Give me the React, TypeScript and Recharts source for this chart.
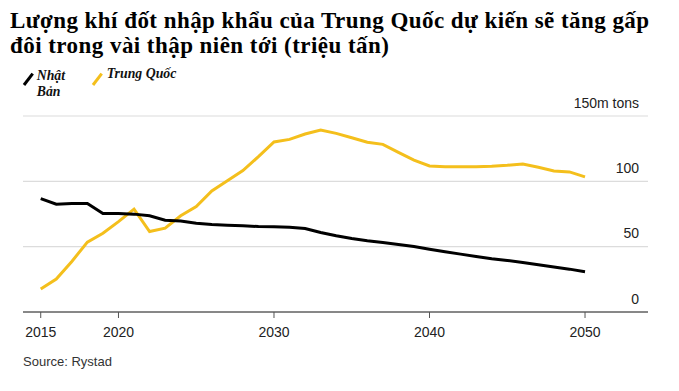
import React from "react";
import { LineChart, Line, XAxis, YAxis, CartesianGrid } from "recharts";

const years = [
  2015, 2016, 2017, 2018, 2019, 2020, 2021, 2022, 2023, 2024, 2025, 2026,
  2027, 2028, 2029, 2030, 2031, 2032, 2033, 2034, 2035, 2036, 2037, 2038,
  2039, 2040, 2041, 2042, 2043, 2044, 2045, 2046, 2047, 2048, 2049, 2050,
];

// Trung Quốc (million tons)
const china = [
  17.6, 25.2, 38.7, 53.5, 60.3, 69.2, 78.7, 61.6, 64.2, 73.6, 80.7, 92.7,
  100.5, 108.2, 118.9, 130.1, 132.1, 136.2, 139.3, 136.7, 133.4, 129.9,
  128.3, 122.2, 116.3, 111.8, 111.2, 111.2, 111.2, 111.6, 112.3, 113.3,
  110.8, 107.9, 107.2, 103.4,
];

// Nhật Bản (million tons)
const japan = [
  86.8, 82.5, 83.0, 83.0, 75.3, 75.3, 74.9, 73.6, 70.3, 69.7, 68.0, 66.9,
  66.4, 66.0, 65.4, 65.2, 64.9, 63.9, 60.8, 58.3, 56.2, 54.5, 53.2, 51.7,
  50.1, 48.1, 46.1, 44.3, 42.5, 40.7, 39.4, 37.9, 36.1, 34.4, 32.8, 30.8,
];

const xTicks = [2015, 2020, 2030, 2040, 2050];
const yTicks = [0, 50, 100, 150];

const YELLOW = "#f4bf1c";
const SANS = "'Liberation Sans', Arial, sans-serif";
const SERIF = "'Liberation Serif', 'Times New Roman', serif";

const data = years.map((year, i) => ({
  year,
  china: china[i],
  japan: japan[i],
}));

const RightTick = (props: any) => {
  const { x, y, payload } = props;
  const label = payload.value === 150 ? "150m tons" : String(payload.value);
  return (
    <text
      x={x}
      y={y - 8.5}
      textAnchor="end"
      fontSize={14}
      fontFamily={SANS}
      fill="#222"
    >
      {label}
    </text>
  );
};

const legendText: React.CSSProperties = {
  position: "absolute",
  fontFamily: SERIF,
  fontStyle: "italic",
  fontWeight: "bold",
  fontSize: 13.8,
  lineHeight: "16px",
  color: "#111",
};

export default function App() {
  return (
    <div style={{ width: 663, position: "relative", background: "#fff" }}>
      <div
        style={{
          fontFamily: SERIF,
          fontWeight: "bold",
          fontSize: 23,
          letterSpacing: 0.45,
          lineHeight: "25px",
          color: "#000",
          paddingLeft: 2,
          height: 50,
          whiteSpace: "nowrap",
        }}
      >
        Lượng khí đốt nhập khẩu của Trung Quốc dự kiến sẽ tăng gấp
        <br />
        đôi trong vài thập niên tới (triệu tấn)
      </div>

      <div style={{ position: "relative", width: 663, height: 287 }}>
        {/* legend */}
        <svg
          width={120}
          height={40}
          style={{ position: "absolute", left: 0, top: 0 }}
        >
          <line x1={16} y1={27} x2={24.7} y2={15.7} stroke="#000" strokeWidth={3} />
          <line x1={85} y1={27} x2={93.7} y2={15.7} stroke={YELLOW} strokeWidth={3} />
        </svg>
        <div style={{ ...legendText, left: 28.7, top: 9.5, width: 36 }}>
          Nhật Bản
        </div>
        <div style={{ ...legendText, left: 98.7, top: 7.5, whiteSpace: "nowrap" }}>
          Trung Quốc
        </div>

        <LineChart
          width={663}
          height={287}
          data={data}
          margin={{ top: 58, right: 23, left: 15, bottom: 3 }}
        >
          <CartesianGrid vertical={false} stroke="#dcdcdc" strokeWidth={1.2} />
          <XAxis
            dataKey="year"
            type="number"
            domain={[2013.86, 2054.05]}
            allowDataOverflow
            ticks={xTicks}
            tickSize={6}
            tickMargin={9}
            height={30}
            axisLine={{ stroke: "#222" }}
            tickLine={{ stroke: "#555" }}
            tick={{ fontSize: 14, fontFamily: SANS, fill: "#222" }}
          />
          <YAxis
            orientation="right"
            mirror
            width={40}
            domain={[0, 150]}
            ticks={yTicks}
            axisLine={false}
            tickLine={false}
            tickSize={0}
            tickMargin={9}
            tick={<RightTick />}
          />
          <Line
            type="linear"
            dataKey="china"
            stroke={YELLOW}
            strokeWidth={3}
            dot={false}
            isAnimationActive={false}
          />
          <Line
            type="linear"
            dataKey="japan"
            stroke="#000"
            strokeWidth={3}
            dot={false}
            isAnimationActive={false}
          />
        </LineChart>
      </div>

      <div
        style={{
          fontFamily: SANS,
          fontSize: 13,
          lineHeight: "14px",
          color: "#333",
          paddingLeft: 15,
          marginTop: 10,
        }}
      >
        Source: Rystad
      </div>
    </div>
  );
}
